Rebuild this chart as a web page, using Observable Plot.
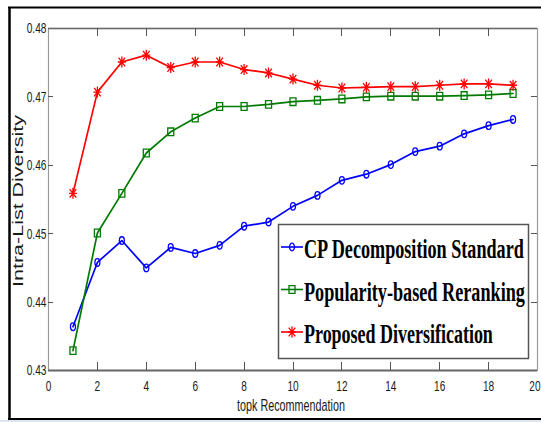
<!DOCTYPE html>
<html><head><meta charset="utf-8">
<script src="https://cdn.jsdelivr.net/npm/d3@7"></script>
<script src="https://cdn.jsdelivr.net/npm/@observablehq/plot@0.6"></script>
<style>
body{margin:0;background:#fff;}
#chart svg{display:block;}
</style>
</head><body><div id="chart"></div>
<script>
// ---- data ----
const topk = [1,2,3,4,5,6,7,8,9,10,11,12,13,14,15,16,17,18,19];
const cpStandard = [0.4364,0.4458,0.4490,0.4450,0.4480,0.4471,0.4483,0.4511,0.4517,0.4540,0.4556,0.4578,0.4587,0.4601,0.4620,0.4628,0.4646,0.4658,0.4667];
const popularity = [0.4329,0.4501,0.4559,0.4618,0.4649,0.4669,0.4686,0.4686,0.4689,0.4693,0.4695,0.4697,0.4700,0.4701,0.4701,0.4701,0.4702,0.4703,0.4705];
const proposed   = [0.4559,0.4707,0.4751,0.4761,0.4743,0.4751,0.4751,0.4740,0.4735,0.4726,0.4717,0.4713,0.4714,0.4715,0.4715,0.4717,0.4719,0.4719,0.4717];
const seriesNames = ["CP Decomposition Standard","Popularity-based Reranking","Proposed Diversification"];
const seriesColors = ["#0000ff","#007a00","#ff0000"];
const xTicks = [0,2,4,6,8,10,12,14,16,18,20];
const yTicks = [0.43,0.44,0.45,0.46,0.47,0.48];
const xLabel = "topk Recommendation";
const yLabel = "Intra-List Diversity";

// ---- marker symbols ----
const ellipseSym = {draw(ctx){const rx=2.5,ry=3.8,kx=rx*0.5523,ky=ry*0.5523;
  ctx.moveTo(0,-ry);ctx.bezierCurveTo(kx,-ry,rx,-ky,rx,0);ctx.bezierCurveTo(rx,ky,kx,ry,0,ry);
  ctx.bezierCurveTo(-kx,ry,-rx,ky,-rx,0);ctx.bezierCurveTo(-rx,-ky,-kx,-ry,0,-ry);ctx.closePath();}};
const squareSym = {draw(ctx){ctx.rect(-3,-3.8,6,7.6);}};
const starSym = {draw(ctx){ctx.moveTo(0,-5.5);ctx.lineTo(0,5.5);ctx.moveTo(-4,0);ctx.lineTo(4,0);
  ctx.moveTo(-3.3,-4.3);ctx.lineTo(3.3,4.3);ctx.moveTo(3.3,-4.3);ctx.lineTo(-3.3,4.3);}};
const symbols = [ellipseSym, squareSym, starSym];

const allSeries = [cpStandard, popularity, proposed];
const rows = allSeries.map((vals,i)=>topk.map((k,j)=>({k, v: vals[j], s: i})));

const sans = "'Liberation Sans',Arial,sans-serif";

const marks = [
  Plot.frame({stroke:"#9a9a9a", strokeWidth:1.2}),
  Plot.ruleY([0.43], {stroke:"#6a6a6a", strokeWidth:2}),
  Plot.ruleY([0.48], {stroke:"#6a6a6a", strokeWidth:1.6}),
  Plot.axisX(xTicks.slice(0,-1), {anchor:"bottom", tickSize:0, tickPadding:10, label:null, tickFormat:d=>String(d), fontSize:15, fill:"#1a1a1a"}),
  Plot.axisX(xTicks.slice(-1), {anchor:"bottom", tickSize:0, tickPadding:10, label:null, tickFormat:d=>String(d), fontSize:15, fill:"#1a1a1a", textAnchor:"end", dx:3}),
  Plot.axisY(yTicks, {anchor:"left", tickSize:0, tickPadding:2, label:null, tickFormat:d3.format(".2f"), fontSize:15, fill:"#1a1a1a"})
];
rows.forEach((r,i)=>{
  marks.push(Plot.line(r, {x:"k", y:"v", stroke:seriesColors[i], strokeWidth:1.7}));
  marks.push(Plot.dot(r, {x:"k", y:"v", stroke:seriesColors[i], symbol:symbols[i], fill:"none", strokeWidth:1.3, r:4}));
});

const svgEl = Plot.plot({
  width:541, height:422,
  marginLeft:48, marginRight:4, marginTop:28, marginBottom:52,
  x:{domain:[0,20]},
  y:{domain:[0.43,0.48]},
  style:{background:"#fff", fontFamily:sans, fontSize:"15px", overflow:"hidden"},
  marks
});
document.getElementById("chart").appendChild(svgEl);

const svg = d3.select(svgEl);
const X = svgEl.scale("x"), Y = svgEl.scale("y");

// narrow the tick labels (reference uses a condensed face)
svg.selectAll('g[aria-label="x-axis tick label"] text, g[aria-label="y-axis tick label"] text').each(function(){
  const t = this.textContent || "";
  const w = [...t].reduce((s,c)=>s + (c === "." ? 3 : 5.6), 0);
  d3.select(this).attr("textLength", w).attr("lengthAdjust","spacingAndGlyphs");
});

// horizontally condense a freshly-created text element (x/y attributes only)
function condense(el, width) {
  const w = el.getComputedTextLength();
  if (!w) return;
  const s = width / w;
  const x = +(el.getAttribute("x") || 0), y = +(el.getAttribute("y") || 0);
  el.removeAttribute("x"); el.removeAttribute("y");
  el.setAttribute("transform", `translate(${x},${y}) scale(${s},1)`);
}

// inward tick marks, placed through the plot's scales
const ticks = svg.append("g").attr("stroke","#555").attr("stroke-width",1);
const yb = Y.apply(yTicks[0]), yt = Y.apply(yTicks[yTicks.length-1]);
const xl = X.apply(xTicks[0]), xr = X.apply(xTicks[xTicks.length-1]);
xTicks.slice(1,-1).forEach(v=>{
  const px = Math.round(X.apply(v)) + 0.5;
  ticks.append("line").attr("x1",px).attr("x2",px).attr("y1",yb).attr("y2",yb-8);
  ticks.append("line").attr("x1",px).attr("x2",px).attr("y1",yt).attr("y2",yt+8);
});
yTicks.slice(1,-1).forEach(v=>{
  const py = Math.round(Y.apply(v)) + 0.5;
  ticks.append("line").attr("x1",xl).attr("x2",xl+5).attr("y1",py).attr("y2",py);
  ticks.append("line").attr("x1",xr).attr("x2",xr-6).attr("y1",py).attr("y2",py);
});

// axis labels
const xl_t = svg.append("text").attr("x",291).attr("y",411).attr("text-anchor","middle")
  .attr("font-family",sans).attr("font-size",16).attr("fill","#1a1a1a").text(xLabel);
condense(xl_t.node(), 108);
const yl_g = svg.append("g").attr("transform","translate(23,201) rotate(-90)");
const yl_t = yl_g.append("text").attr("text-anchor","middle")
  .attr("font-family",sans).attr("font-size",14).attr("fill","#1a1a1a").text(yLabel);
condense(yl_t.node(), 172);

// legend
const lg = svg.append("g").attr("text-anchor","start");
lg.append("rect").attr("x",278.5).attr("y",224.5).attr("width",250).attr("height",134)
  .attr("fill","#fff").attr("stroke","#555").attr("stroke-width",1.5);
const textWidths = [220,221,189];
seriesNames.forEach((name,i)=>{
  const cy = 247 + i*42.5;
  lg.append("line").attr("x1",281).attr("x2",303).attr("y1",cy).attr("y2",cy)
    .attr("stroke",seriesColors[i]).attr("stroke-width",1.6);
  const p = d3.path(); symbols[i].draw(p);
  lg.append("path").attr("d",p.toString()).attr("transform",`translate(292,${cy})`)
    .attr("fill","none").attr("stroke",seriesColors[i]).attr("stroke-width",1.3);
  const t = lg.append("text").attr("x",304).attr("y",cy+11).attr("text-anchor","start")
    .attr("font-family","'Liberation Serif','Times New Roman',serif")
    .attr("font-weight","bold").attr("font-size",28).attr("fill","#000").text(name);
  condense(t.node(), textWidths[i]);
});

// outer figure border
svg.append("rect").attr("x",0).attr("y",420).attr("width",541).attr("height",2).attr("fill","#dde7f2");
svg.append("line").attr("x1",9.5).attr("x2",9.5).attr("y1",7).attr("y2",419.5).attr("stroke","#000").attr("stroke-width",2.5);
svg.append("line").attr("x1",8).attr("x2",541).attr("y1",7.5).attr("y2",7.5).attr("stroke","#000").attr("stroke-width",2);
svg.append("line").attr("x1",8).attr("x2",541).attr("y1",419).attr("y2",419).attr("stroke","#000").attr("stroke-width",2);
</script>
</body></html>
